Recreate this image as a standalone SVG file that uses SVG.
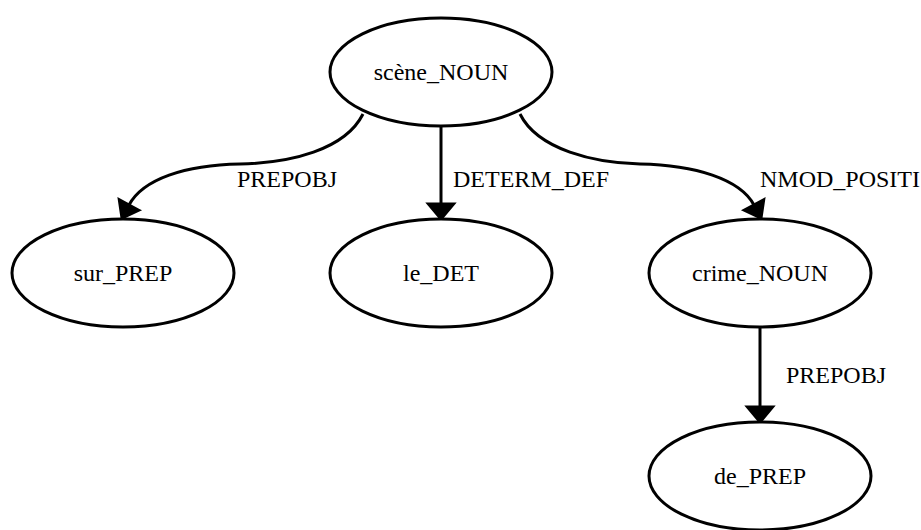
<svg xmlns="http://www.w3.org/2000/svg" width="921" height="530" viewBox="0 0 921 530">
<style>
.n ellipse{fill:#fff;stroke:#000;stroke-width:3}
text{font-family:"Liberation Serif","Times New Roman",serif;font-size:24px;fill:#000}
.n text{text-anchor:middle}
.e path{fill:none;stroke:#000;stroke-width:3}
.e polygon{fill:#000;stroke:#000;stroke-width:3;stroke-linejoin:miter}
</style>
<rect width="921" height="530" fill="#fff"/>
<g id="edges" class="e">
<path d="M363,114 C345,150 290,163 240,164 C185,165 143,179 129,205"/>
<polygon points="138.7,210.2 119.3,199.8 122,218"/>
<text x="237" y="187">PREPOBJ</text>
<path d="M441,127 L441,204"/>
<polygon points="428.5,204 453.5,204 441,219"/>
<text x="453" y="187">DETERM_DEF</text>
<path d="M520,114 C538,150 595,163 640,164 C695,165 740,179 754,205"/>
<polygon points="763.7,199.8 744.3,210.2 761,218"/>
<text x="760" y="187">NMOD_POSITI</text>
<path d="M760,328 L760,407"/>
<polygon points="747.5,407 772.5,407 760,422"/>
<text x="786" y="383">PREPOBJ</text>
</g>
<g id="n_scene" class="n"><ellipse cx="441" cy="72" rx="111" ry="54"/><text x="441" y="80">scène_NOUN</text></g>
<g id="n_sur" class="n"><ellipse cx="123" cy="273" rx="111" ry="54"/><text x="123" y="281">sur_PREP</text></g>
<g id="n_le" class="n"><ellipse cx="441" cy="273" rx="111" ry="54"/><text x="441" y="281">le_DET</text></g>
<g id="n_crime" class="n"><ellipse cx="760" cy="273" rx="111" ry="54"/><text x="760" y="281">crime_NOUN</text></g>
<g id="n_de" class="n"><ellipse cx="760" cy="476" rx="111" ry="54"/><text x="760" y="484">de_PREP</text></g>
</svg>
